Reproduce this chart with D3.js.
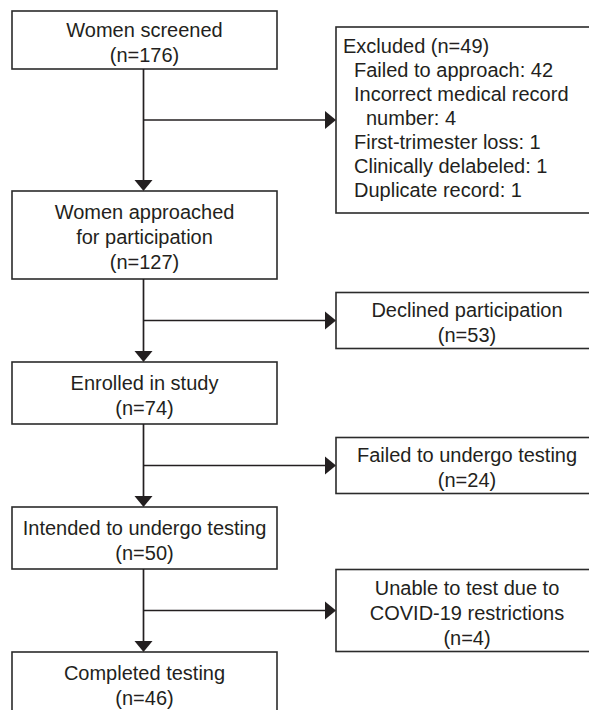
<!DOCTYPE html>
<html>
<head>
<meta charset="utf-8">
<title>Study flow diagram</title>
<script src="https://d3js.org/d3.v7.min.js"></script>
<style>
    body { margin: 0; background: #fff; }
    svg text {
        font-family: "Liberation Sans", Arial, Helvetica, sans-serif;
        font-size: 20px;
        fill: #231f20;
    }
    .box { fill: #fff; stroke: #2b2b2b; stroke-width: 1.6; }
    .link { stroke: #231f20; stroke-width: 1.7; fill: none; }
    .head { fill: #231f20; stroke: none; }
</style>
</head>
<body>
<div id="chart"></div>
<script>
// main flow, left column
const mainSteps = ["Women screened", "Women approached\nfor participation", "Enrolled in study",
                   "Intended to undergo testing", "Completed testing"];
const mainCounts = [176, 127, 74, 50, 46];

// exits to the right (one between each pair of main steps)
const exitSteps = ["Excluded", "Declined participation", "Failed to undergo testing",
                   "Unable to test due to\nCOVID-19 restrictions"];
const exitCounts = [49, 53, 24, 4];

// breakdown of the first exit
const excludedReasons = ["Failed to approach", "Incorrect medical record number", "First-trimester loss",
                         "Clinically delabeled", "Duplicate record"];
const excludedCounts = [42, 4, 1, 1, 1];

const width = 589, height = 710;

// layout settings
const mainX = [12, 277];       // left column box edges
const sideX = [336, 598];      // right column runs off the page edge
const stemX = 143.5;
const rowH = 26, lineH = 25, listLineH = 24;
const mainPad = 10, sidePad = 4, gap = 41.5;
const headLen = 11, headHalf = 9;

const svg = d3.select("#chart").append("svg")
    .attr("width", width)
    .attr("height", height);

svg.append("rect").attr("width", width).attr("height", height).attr("fill", "#fff");

// measure text so long reasons can wrap inside the box
const probe = svg.append("text").attr("visibility", "hidden");
function textWidth(s) {
    probe.text(s);
    return probe.node().getComputedTextLength();
}
function wrap(str, maxW) {
    const words = str.split(" ");
    const lines = [];
    let cur = words[0];
    for (let i = 1; i < words.length; i++) {
        if (textWidth(cur + " " + words[i]) <= maxW) {
            cur += " " + words[i];
        } else {
            lines.push(cur);
            cur = words[i];
        }
    }
    lines.push(cur);
    return lines;
}

const excludedLines = [{t: `${exitSteps[0]} (n=${exitCounts[0]})`, dx: 7}];
excludedReasons.forEach((r, i) => {
    wrap(`${r}: ${excludedCounts[i]}`, 228).forEach((l, j) => {
        excludedLines.push({t: l, dx: j ? 30 : 18});
    });
});
probe.remove();

// walk down the page building boxes and connectors
const boxes = [], downs = [], rights = [];
let yCursor = 11;
mainSteps.forEach((label, i) => {
    const lines = label.split("\n").concat(`(n=${mainCounts[i]})`).map(t => ({t}));
    const h = lines.length * rowH + mainPad - (i === 0 ? 4 : 0);
    boxes.push({x0: mainX[0], x1: mainX[1], y0: yCursor, y1: yCursor + h, lines, list: false});

    if (i < exitSteps.length) {
        const sLines = i === 0 ? excludedLines
            : exitSteps[i].split("\n").concat(`(n=${exitCounts[i]})`).map(t => ({t}));
        const sh = sLines.length * rowH + sidePad;
        const branch = Math.max(yCursor + h + gap, yCursor + 16 + sh / 2);
        boxes.push({x0: sideX[0], x1: sideX[1], y0: branch - sh / 2, y1: branch + sh / 2,
                    lines: sLines, list: i === 0});
        const nextTop = Math.max(branch + gap, branch + sh / 2 - 22);
        downs.push({x: stemX, y0: yCursor + h, y1: nextTop});
        rights.push({y: branch, x0: stemX, x1: sideX[0]});
        yCursor = nextTop;
    }
});

// boxes
svg.selectAll("rect.box")
    .data(boxes)
    .join("rect")
    .attr("class", "box")
    .attr("x", d => d.x0)
    .attr("y", d => d.y0)
    .attr("width", d => d.x1 - d.x0)
    .attr("height", d => d.y1 - d.y0);

// box labels
const labels = svg.selectAll("g.label")
    .data(boxes)
    .join("g")
    .attr("class", "label");

labels.each(function(d) {
    const n = d.lines.length;
    const lh = d.list ? listLineH : lineH;
    const cy = (d.y0 + d.y1) / 2 + (d.list ? -2 : 2);
    d3.select(this).selectAll("text")
        .data(d.lines)
        .join("text")
        .attr("x", l => d.list ? d.x0 + l.dx : (d.x0 + d.x1) / 2)
        .attr("y", (l, k) => cy + (k - (n - 1) / 2) * lh)
        .attr("dominant-baseline", "central")
        .attr("text-anchor", d.list ? "start" : "middle")
        .text(l => l.t);
});

// vertical connectors with arrowheads
svg.selectAll("line.down")
    .data(downs)
    .join("line")
    .attr("class", "link down")
    .attr("x1", d => d.x).attr("x2", d => d.x)
    .attr("y1", d => d.y0).attr("y2", d => d.y1 - headLen);

svg.selectAll("path.downhead")
    .data(downs)
    .join("path")
    .attr("class", "head downhead")
    .attr("d", d => `M${d.x - headHalf},${d.y1 - headLen}L${d.x + headHalf},${d.y1 - headLen}L${d.x},${d.y1}Z`);

// horizontal branches to the exits
svg.selectAll("line.right")
    .data(rights)
    .join("line")
    .attr("class", "link right")
    .attr("x1", d => d.x0).attr("x2", d => d.x1 - headLen)
    .attr("y1", d => d.y).attr("y2", d => d.y);

svg.selectAll("path.righthead")
    .data(rights)
    .join("path")
    .attr("class", "head righthead")
    .attr("d", d => `M${d.x1 - headLen},${d.y - headHalf}L${d.x1 - headLen},${d.y + headHalf}L${d.x1},${d.y}Z`);
</script>
</body>
</html>
